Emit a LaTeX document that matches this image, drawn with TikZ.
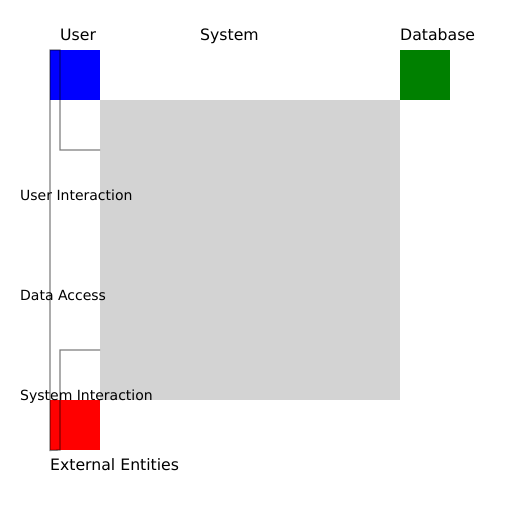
\documentclass[tikz,border=0pt]{standalone}
\usepackage{fontspec}
\setmainfont{DejaVu Sans}
\begin{document}
\begin{tikzpicture}[x=1pt,y=-1pt,
  box/.style={draw=none,inner sep=0pt,minimum width=50pt,minimum height=50pt,anchor=north west},
  big/.style={font=\fontsize{15.7}{18}\selectfont,inner sep=0pt,anchor=base west},
  small/.style={font=\fontsize{14}{16}\selectfont,inner sep=0pt,anchor=base west},
  link/.style={draw=black,draw opacity=0.5,line width=1.3pt}]
\useasboundingbox (0,0) rectangle (512,512);
\node[box,fill={rgb,255:red,211;green,211;blue,211},minimum width=300pt,minimum height=300pt] (sys) at (100,100) {};
\node[box,fill={rgb,255:red,0;green,0;blue,255}] (user) at (50,50) {};
\node[box,fill={rgb,255:red,0;green,128;blue,0}] (db) at (400,50) {};
\node[box,fill={rgb,255:red,255;green,0;blue,0}] (ext) at (50,400) {};
\node[big] (tuser) at (60,40.5) {User};
\node[big] (tsys) at (200,40.5) {System};
\node[big] (tdb) at (400,40.5) {Database};
\node[big] (text) at (50,470) {External Entities};
\node[small] (l1) at (20,200) {User Interaction};
\node[small] (l2) at (20,300) {Data Access};
\node[small] (l3) at (20,400) {System Interaction};
\coordinate (a) at (100,150);
\coordinate (b) at (100,350);
\draw[link] (a) -- (60,150) -- (60,50) -- (user.north west) -- (ext.south west) -- (60,450) -- (60,350) -- (b);
\end{tikzpicture}
\end{document}
